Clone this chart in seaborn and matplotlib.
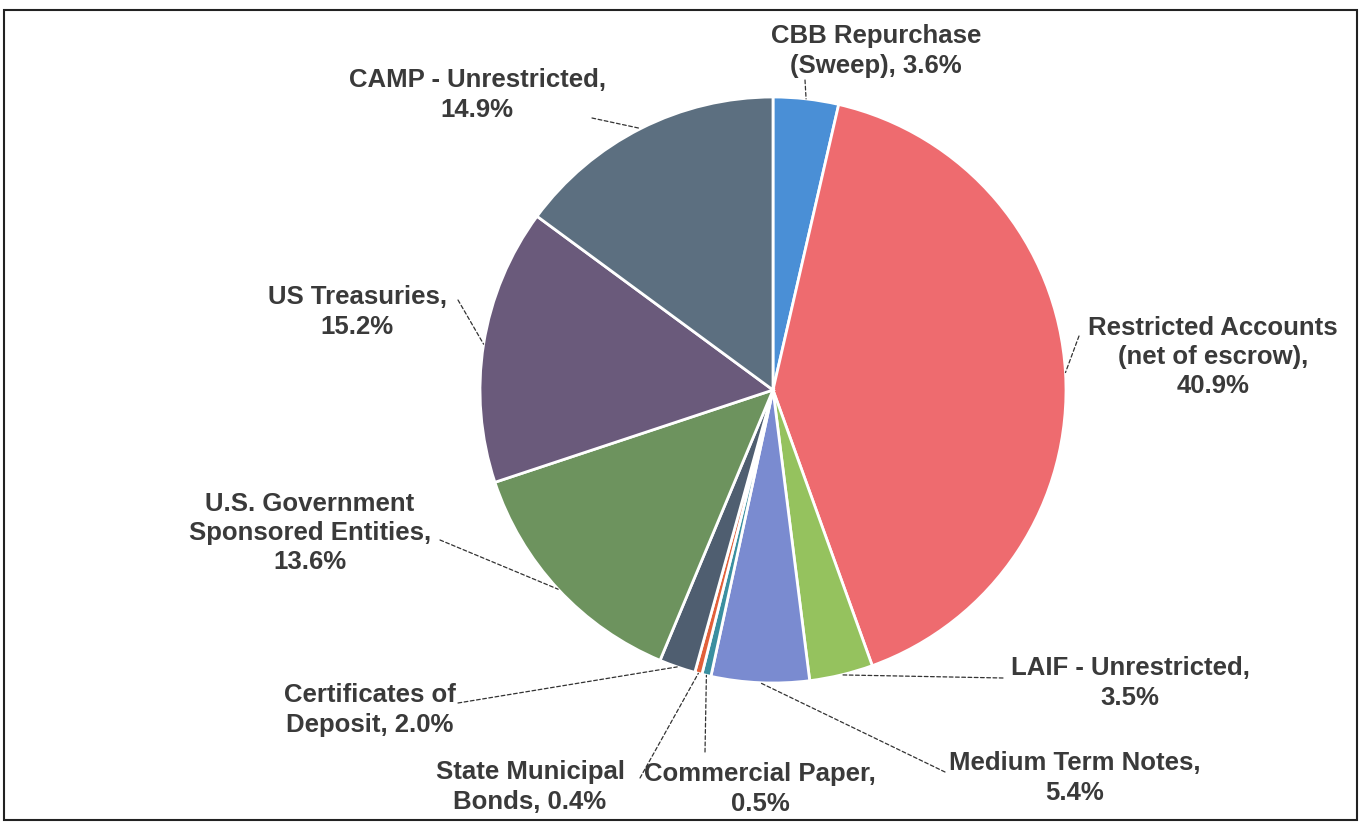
import numpy as np
import seaborn as sns
import matplotlib
matplotlib.use("Agg")
import matplotlib.pyplot as plt
from matplotlib.patches import Rectangle

# portfolio split, clockwise from 12 o'clock
names = ["CBB Repurchase\n(Sweep)", "Restricted Accounts\n(net of escrow)",
         "LAIF - Unrestricted", "Medium Term Notes", "Commercial Paper",
         "State Municipal\nBonds", "Certificates of\nDeposit",
         "U.S. Government\nSponsored Entities", "US Treasuries",
         "CAMP - Unrestricted"]
shares = [3.6, 40.9, 3.5, 5.4, 0.5, 0.4, 2.0, 13.6, 15.2, 14.9]
seps = [" ", "\n", "\n", "\n", "\n", " ", " ", "\n", "\n", "\n"]
colors = ["#4a8fd6", "#ee6b6f", "#95c25e", "#7a8bd0", "#3a8fa0",
          "#e2603a", "#4f5e70", "#6d935e", "#6a5a7b", "#5c6f80"]

# label centres and leader ends, in pixels of the 1362x825 image
label_px = [(876, 51), (1213, 357), (1130, 683), (1075, 778), (760, 789),
            (530, 787), (370, 710), (310, 533), (357, 312), (477, 95)]
leader_px = [(805, 80), (1079, 336), (1003, 678), (945, 772), (705, 752),
             (640, 778), (458, 703), (440, 540), (458, 300), (592, 118)]

W, H = 1362, 825
CX, CY, R = 773, 390, 293


def to_data(p):
    return ((p[0] - CX) / R, (CY - p[1]) / R)


sns.set_theme(style="white")
plt.rcParams["font.family"] = ["Liberation Sans", "DejaVu Sans"]

fig = plt.figure(figsize=(W / 100, H / 100), dpi=100)
ax = fig.add_axes([0, 0, 1, 1])

wedges, _ = ax.pie(shares, colors=colors, startangle=90, counterclock=False,
                   radius=1, center=(0, 0),
                   wedgeprops=dict(edgecolor="white", linewidth=2))
ax.set_aspect("auto")
ax.set_xlim(-CX / R, (W - CX) / R)
ax.set_ylim(-(H - CY) / R, CY / R)
ax.axis("off")

for w, name, val, sep, lp, ep in zip(wedges, names, shares, seps, label_px, leader_px):
    mid = np.deg2rad((w.theta1 + w.theta2) / 2)
    edge = (np.cos(mid), np.sin(mid))
    ax.annotate("", xy=edge, xytext=to_data(ep),
                arrowprops=dict(arrowstyle="-", color="#333333", lw=0.9,
                                linestyle=(0, (3, 2)), shrinkA=0, shrinkB=0))
    tx, ty = to_data(lp)
    ax.text(tx, ty, f"{name},{sep}{val:.1f}%", ha="center", va="center",
            fontsize=18.5, fontweight="bold", color="#3a3a3a", linespacing=1.27)

# frame of the scanned chart
fig.patches.append(Rectangle((4 / W, 1 - 820 / H), 1353 / W, 810 / H,
                             transform=fig.transFigure, fill=False,
                             edgecolor="#222222", lw=1.5))

fig.savefig("out.png", dpi=100, facecolor="white")
